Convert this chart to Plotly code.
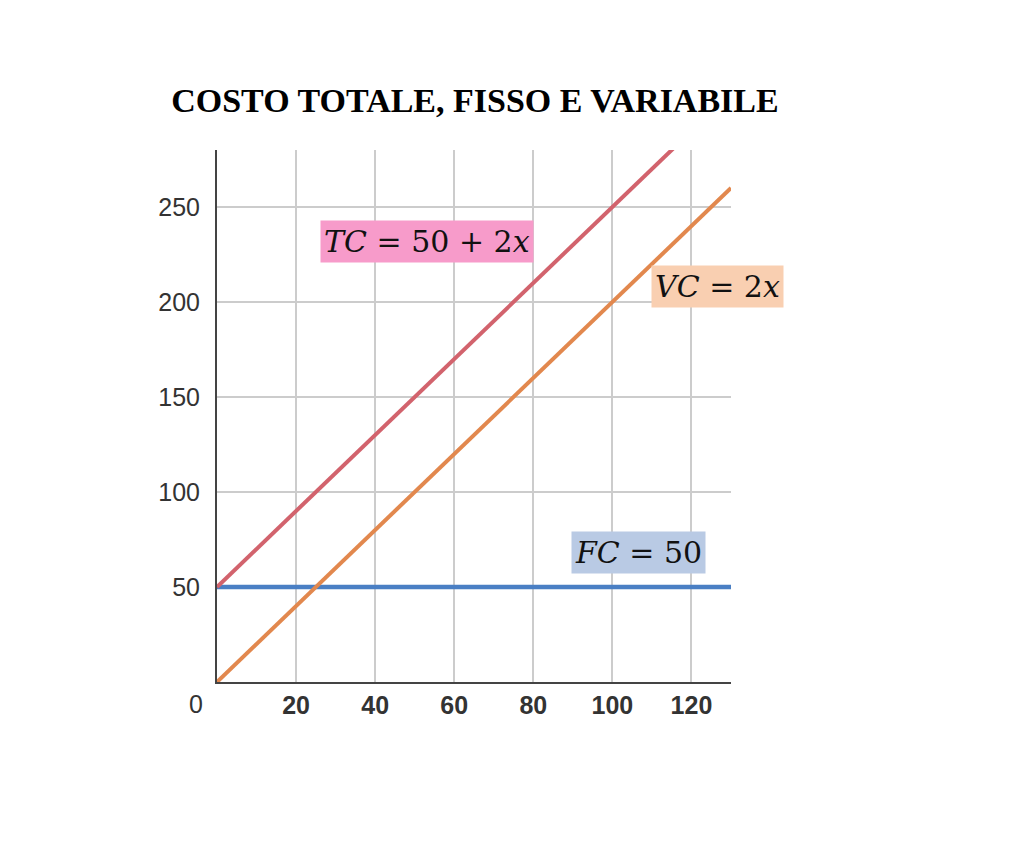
import plotly.graph_objects as go

x_vals = [0, 130]
fc_vals = [50, 50]
vc_vals = [0, 260]
tc_vals = [50, 310]

x_ticks = [20, 40, 60, 80, 100, 120]
y_ticks = [50, 100, 150, 200, 250]

title_text = "COSTO TOTALE, FISSO E VARIABILE"

fig = go.Figure()
fig.add_trace(go.Scatter(x=x_vals, y=fc_vals, mode="lines", line=dict(color="#4a7fc4", width=4.5), showlegend=False))
fig.add_trace(go.Scatter(x=x_vals, y=vc_vals, mode="lines", line=dict(color="#e2884e", width=4), showlegend=False))
fig.add_trace(go.Scatter(x=x_vals, y=tc_vals, mode="lines", line=dict(color="#d2636d", width=4), showlegend=False))

label_font = dict(family="DejaVu Serif", size=30, color="#111111")
fig.add_annotation(x=53.1, y=232, xref="x", yref="y", showarrow=False,
                   text="<i>TC</i> = 50 + 2<i>x</i>", font=label_font,
                   bgcolor="#f79bca", borderpad=3)
fig.add_annotation(x=126.5, y=208, xref="x", yref="y", showarrow=False,
                   text="<i>VC</i> = 2<i>x</i>", font=label_font,
                   bgcolor="#f9cfb1", borderpad=3)
fig.add_annotation(x=106.7, y=68, xref="x", yref="y", showarrow=False,
                   text="<i>FC</i> = 50", font=label_font,
                   bgcolor="#b9cae4", borderpad=3)
fig.add_annotation(x=0, y=0, xref="x", yref="y", showarrow=False,
                   text="0", xshift=-21, yshift=-22,
                   font=dict(family="Liberation Sans", size=25, color="#333333"))

fig.update_layout(
    width=1024, height=854,
    paper_bgcolor="white", plot_bgcolor="white",
    margin=dict(l=209, r=301, t=142, b=180),
    title=dict(text="<b>" + title_text + "</b>", x=0.456, xanchor="center", y=0.892, yanchor="middle",
               font=dict(family="Liberation Serif", size=34, color="#000000")),
    xaxis=dict(range=[0, 130], tickvals=x_ticks, ticktext=[str(v) for v in x_ticks],
               showgrid=True, gridcolor="#cccccc", gridwidth=1.5,
               showline=True, linecolor="#444444", linewidth=2, zeroline=False,
               ticks="", tickfont=dict(family="Liberation Sans", size=25, color="#333333", weight="bold")),
    yaxis=dict(range=[0, 280], tickvals=y_ticks, ticktext=[str(v) for v in y_ticks],
               showgrid=True, gridcolor="#cccccc", gridwidth=1.5,
               showline=True, linecolor="#444444", linewidth=2, zeroline=False,
               ticks="", ticklabelstandoff=10,
               tickfont=dict(family="Liberation Sans", size=25, color="#333333")),
)

fig.write_html("out.html")
